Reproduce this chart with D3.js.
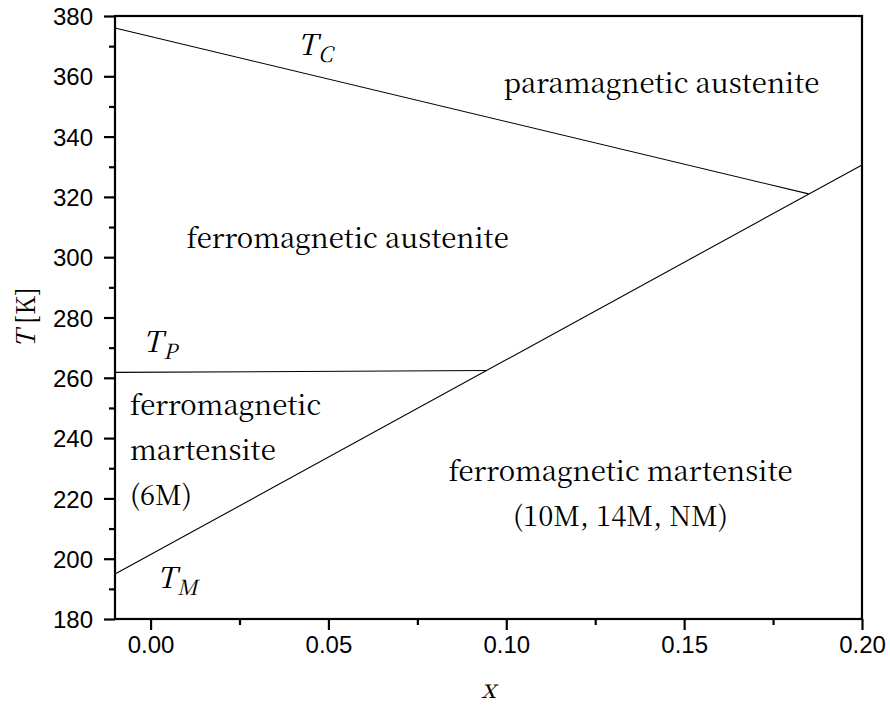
<!DOCTYPE html>
<html>
<head>
<meta charset="utf-8">
<script src="https://cdn.jsdelivr.net/npm/d3@7"></script>
<style>
  html, body { margin: 0; padding: 0; background: #fff; }
  svg { display: block; }
  text { fill: #000; }
</style>
</head>
<body>
<svg id="chart" width="890" height="706"></svg>
<script>
// Phase boundaries of the alloy series: temperature T (K) versus composition x
const curieLine = [[-0.01, 376.0], [0.185, 321.0]];      // T_C
const premartLine = [[-0.01, 261.8], [0.0945, 262.4]];   // T_P
const martLine = [[-0.01, 194.9], [0.20, 330.6]];        // T_M

// Axis ticks
const xMajorTicks = [0.00, 0.05, 0.10, 0.15, 0.20];
const xMinorTicks = [0.025, 0.075, 0.125, 0.175];
const yMajorTicks = [180, 200, 220, 240, 260, 280, 300, 320, 340, 360, 380];
const yMinorTicks = [190, 210, 230, 250, 270, 290, 310, 330, 350, 370];

// Phase region names, anchored in (x, T) units
const regionNames = [
  { lines: ["paramagnetic austenite"], x: 0.1436, T: 354.5, anchor: "middle" },
  { lines: ["ferromagnetic austenite"], x: 0.0554, T: 303.0, anchor: "middle" },
  { lines: ["ferromagnetic martensite", "(10M, 14M, NM)"], x: 0.1321, T: 225.8, anchor: "middle" },
  { lines: ["ferromagnetic", "martensite", "(6M)"], x: -0.0058, T: 247.7, anchor: "start" }
];
// Transition temperature labels: symbol T with subscript
const transitionNames = [
  { sub: "C", x: 0.0414, T: 367.1 },
  { sub: "P", x: -0.0021, T: 268.6 },
  { sub: "M", x: 0.0018, T: 190.3 }
];

const SANS = '"Liberation Sans", Arial, sans-serif';
const SERIF = '"Noto Serif CJK SC", "Liberation Serif", serif';

const svg = d3.select("#chart");
const margin = { left: 115, right: 28, top: 16, bottom: 87 };
const W = 890, H = 706;

const x = d3.scaleLinear().domain([-0.01, 0.20]).range([margin.left, W - margin.right]);
const y = d3.scaleLinear().domain([180, 380]).range([H - margin.bottom, margin.top]);

// Boundary lines
const line = d3.line().x(d => x(d[0])).y(d => y(d[1]));
[curieLine, premartLine, martLine].forEach(pts => {
  svg.append("path").attr("d", line(pts))
    .attr("fill", "none").attr("stroke", "#000").attr("stroke-width", 1.1);
});

// Frame
svg.append("rect")
  .attr("x", x.range()[0]).attr("y", y.range()[1])
  .attr("width", x.range()[1] - x.range()[0])
  .attr("height", y.range()[0] - y.range()[1])
  .attr("fill", "none").attr("stroke", "#000").attr("stroke-width", 2.2);

// Bottom axis
const xAxis = svg.append("g").attr("transform", `translate(0,${y.range()[0]})`);
xAxis.call(d3.axisBottom(x).tickValues(xMajorTicks).tickSize(11).tickPadding(12)
  .tickFormat(d3.format(".2f")));
xAxis.append("g").call(d3.axisBottom(x).tickValues(xMinorTicks).tickSize(6).tickFormat(""));
xAxis.selectAll(".domain").remove();

// Left axis
const yAxis = svg.append("g").attr("transform", `translate(${x.range()[0]},0)`);
yAxis.call(d3.axisLeft(y).tickValues(yMajorTicks).tickSize(11).tickPadding(11)
  .tickFormat(d3.format("d")));
yAxis.append("g").call(d3.axisLeft(y).tickValues(yMinorTicks).tickSize(6).tickFormat(""));
yAxis.selectAll(".domain").remove();

svg.selectAll(".tick line").attr("stroke", "#000").attr("stroke-width", 2.2);
svg.selectAll(".tick text")
  .style("font-family", SANS).style("font-size", "24px").attr("fill", "#000");
xAxis.selectAll(".tick text").attr("dy", null).attr("y", 34);
yAxis.selectAll(".tick text").attr("dy", "0.36em");

// Axis titles
svg.append("text")
  .attr("x", (x.range()[0] + x.range()[1]) / 2).attr("y", 698)
  .attr("text-anchor", "middle").attr("fill", "#000")
  .style("font-family", SERIF).style("font-size", "26px").style("font-style", "italic")
  .text("x");

const yt = svg.append("text")
  .attr("transform", `translate(35,${(y.range()[0] + y.range()[1]) / 2}) rotate(-90)`)
  .attr("text-anchor", "middle").attr("fill", "#000")
  .style("font-family", SERIF).style("font-size", "26px");
yt.append("tspan").style("font-style", "italic").text("T");
yt.append("tspan").text(" [K]");

// Region names
const lineGap = 45;
regionNames.forEach(r => {
  const t = svg.append("text").attr("text-anchor", r.anchor).attr("fill", "#000")
    .style("font-family", SERIF).style("font-size", "27.5px");
  r.lines.forEach((s, i) => {
    t.append("tspan").attr("x", x(r.x)).attr("y", y(r.T) + i * lineGap).text(s);
  });
});

// Transition temperature symbols
transitionNames.forEach(n => {
  const t = svg.append("text").attr("x", x(n.x)).attr("y", y(n.T)).attr("fill", "#000")
    .style("font-family", SERIF).style("font-size", "29px").style("font-style", "italic");
  t.append("tspan").text("T");
  t.append("tspan").attr("dx", 1).attr("dy", 7).style("font-size", "21px").text(n.sub);
});
</script>
</body>
</html>
